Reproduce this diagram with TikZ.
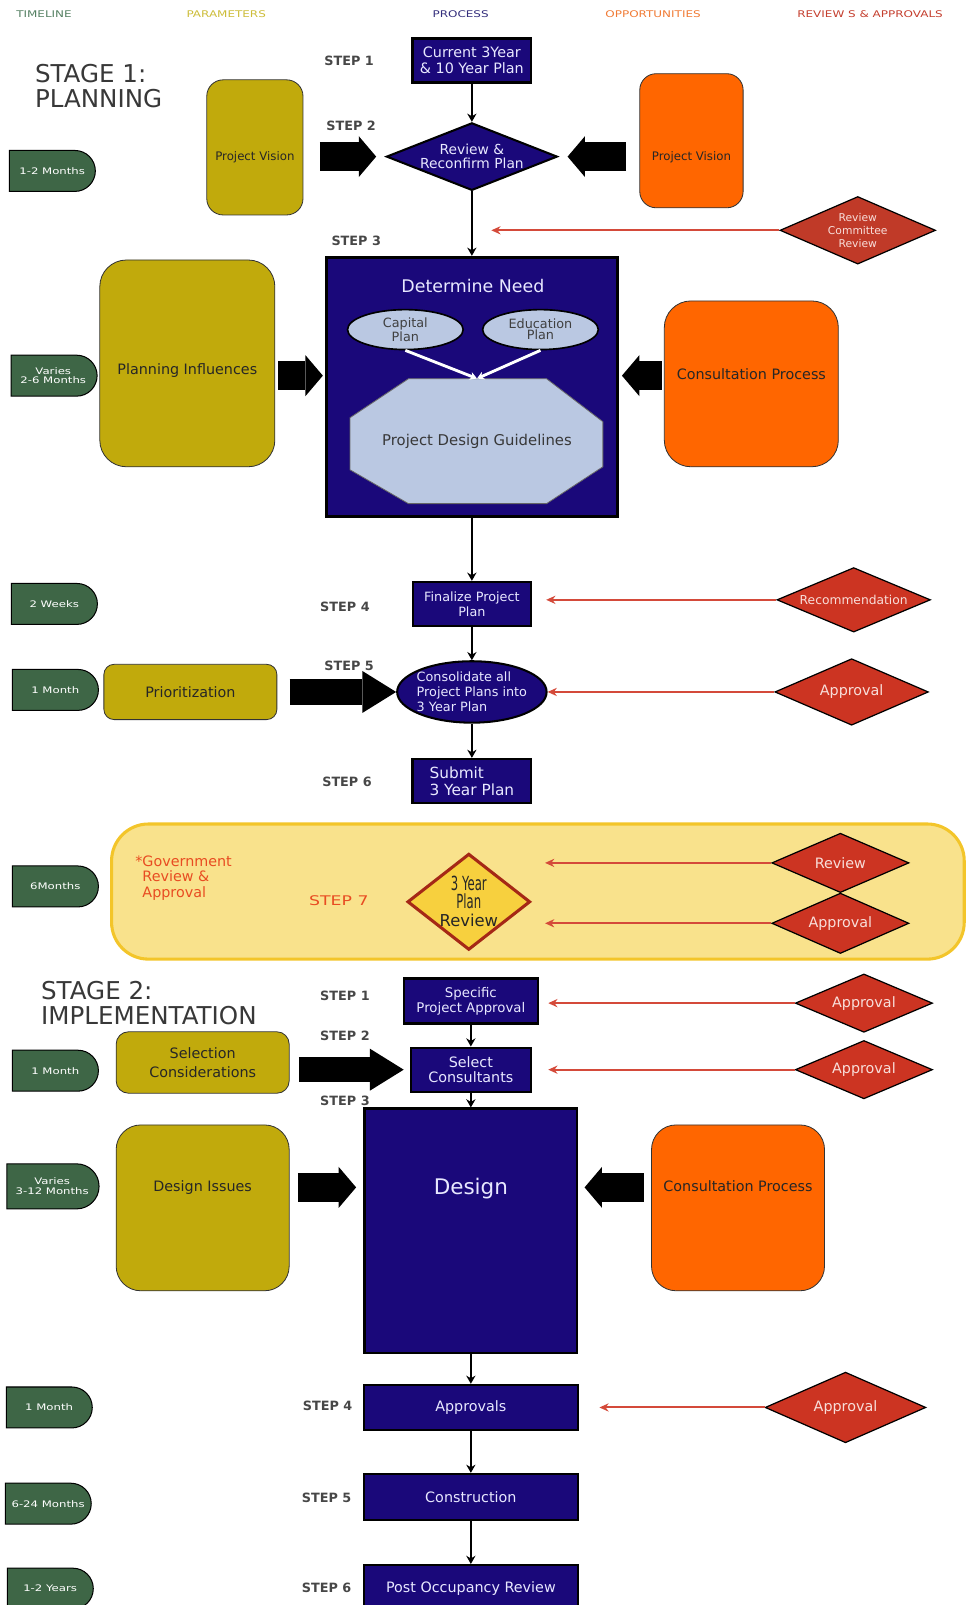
\documentclass[tikz,border=0pt]{standalone}
\usepackage{fontspec}
\setmainfont{DejaVu Sans}
\newfontfamily\widefont[FakeStretch=1.3]{DejaVu Sans}
\newfontfamily\narrowfont[FakeStretch=0.6]{DejaVu Sans}
\usetikzlibrary{arrows.meta,shapes.geometric,shapes.misc,calc}
\definecolor{procnavy}{RGB}{26,8,122}
\definecolor{proctext}{RGB}{232,232,255}
\definecolor{pillgreen}{RGB}{62,102,70}
\definecolor{parolive}{RGB}{193,170,12}
\definecolor{opporange}{RGB}{255,102,0}
\definecolor{revred}{RGB}{204,52,34}
\definecolor{revdark}{RGB}{192,58,40}
\definecolor{revtext}{RGB}{248,222,218}
\definecolor{arrowred}{RGB}{212,74,58}
\definecolor{paleblue}{RGB}{186,200,226}
\definecolor{bandfill}{RGB}{249,226,140}
\definecolor{bandedge}{RGB}{243,197,42}
\definecolor{tyrfill}{RGB}{247,208,62}
\definecolor{tyredge}{RGB}{165,40,22}
\definecolor{govred}{RGB}{232,76,34}
\definecolor{hdtime}{RGB}{84,128,98}
\definecolor{hdpar}{RGB}{204,188,56}
\definecolor{hdproc}{RGB}{52,46,124}
\definecolor{hdopp}{RGB}{240,122,52}
\definecolor{hdrev}{RGB}{196,62,46}

\begin{document}
\begin{tikzpicture}[x=1pt, y=-1pt,
  hdr/.style={font=\widefont\fontsize{9}{11}\selectfont},
  stagelbl/.style={anchor=west, align=left, inner sep=0pt, text=black!78, font=\fontsize{24}{24}\selectfont},
  steplbl/.style={text=black!72, font=\bfseries\fontsize{12.5}{14}\selectfont},
  pill/.style={rounded rectangle, rounded rectangle west arc=none, draw=black, line width=1pt, fill=pillgreen, text=white, minimum width=84pt, minimum height=40pt, inner sep=0pt, align=center, font=\widefont\fontsize{8.8}{9.5}\selectfont},
  partxt/.style={text=black!85, font=\fontsize{14}{19}\selectfont},
  smalltxt/.style={text=black!85, font=\fontsize{11.5}{13}\selectfont},
  param/.style={partxt, draw=black!80, line width=0.8pt, fill=parolive, rounded corners=16pt, align=center},
  oppo/.style={param, fill=opporange},
  proc/.style={draw=black, line width=2.2pt, fill=procnavy, text=proctext, align=center, inner sep=1pt, font=\fontsize{14}{15}\selectfont},
  pale/.style={draw=black, line width=1.6pt, fill=paleblue, text=black!75},
  revd/.style={diamond, draw=black, line width=1.2pt, fill=revred, text=revtext, inner sep=0pt, font=\fontsize{14}{15}\selectfont},
  band/.style={draw=bandedge, line width=3pt, fill=bandfill, rounded corners=36pt},
  flow/.style={-{Stealth[length=8pt,width=9pt]}, line width=2pt},
  rv/.style={-{Stealth[length=9pt,width=8pt]}, draw=arrowred, line width=2pt},
  blk/.style={-{Triangle[length=17pt,width=40pt,line width=0pt]}, line width=28pt},
  blklong/.style={-{Triangle[length=33pt,width=41pt,line width=0pt]}, line width=25pt}]
\useasboundingbox (0,0) rectangle (946,1568);
\clip (0,0) rectangle (946,1568);

\node[band, minimum width=833pt, minimum height=132pt] (gov) at (525.5,871) {};

\node[hdr, text=hdtime] (htime) at (43,14) {TIMELINE};
\node[hdr, text=hdpar] (hpar) at (221,14) {PARAMETERS};
\node[hdr, text=hdproc] (hproc) at (450,14) {PROCESS};
\node[hdr, text=hdopp] (hopp) at (638,14) {OPPORTUNITIES};
\node[hdr, text=hdrev] (hrev) at (850,14) {REVIEW S \& APPROVALS};

\node[stagelbl] (stage1) at (34,84) {STAGE 1:\\PLANNING};
\node[stagelbl] (stage2) at (40,980) {STAGE 2:\\IMPLEMENTATION};

\node[pill] (t1) at (51,167) {1-2 Months};
\node[pill] (t2) at (52,367) {Varies\\2-6 Months};
\node[pill] (t3) at (53,590) {2 Weeks};
\node[pill] (t4) at (54,674) {1 Month};
\node[pill] (t5) at (54,866) {6Months};
\node[pill] (t6) at (54,1046) {1 Month};
\node[pill, minimum width=90pt, minimum height=44pt] (t7) at (51,1159) {Varies\\3-12 Months};
\node[pill] (t8) at (48,1375) {1 Month};
\node[pill] (t9) at (47,1469) {6-24 Months};
\node[pill] (t10) at (49,1552) {1-2 Years};

\node[param, minimum width=94pt, minimum height=132pt, label={[smalltxt, yshift=-10pt]center:Project Vision}] (pvl) at (249,144) {};
\node[param, rounded corners=26pt, minimum width=171pt, minimum height=202pt, label={[partxt, yshift=-7pt]center:Planning Influences}] (pin) at (183,355) {};
\node[param, rounded corners=10pt, minimum width=169pt, minimum height=54pt] (pri) at (186,676) {Prioritization};
\node[param, rounded corners=12pt, minimum width=169pt, minimum height=60pt] (sel) at (198,1038) {Selection\\Considerations};
\node[param, rounded corners=24pt, minimum width=169pt, minimum height=162pt, label={[partxt, yshift=20pt]center:Design Issues}] (dis) at (198,1180) {};

\node[oppo, minimum width=101pt, minimum height=131pt, label={[smalltxt, yshift=-16pt]center:Project Vision}] (pvr) at (675.5,137.5) {};
\node[oppo, rounded corners=26pt, minimum width=170pt, minimum height=162pt, label={[partxt, yshift=9pt]center:Consultation Process}] (con1) at (734,375) {};
\node[oppo, rounded corners=24pt, minimum width=169pt, minimum height=162pt, label={[partxt, yshift=21pt]center:Consultation Process}] (con2) at (721,1180) {};

\node[proc, minimum width=116pt, minimum height=43pt] (s1) at (461,59) {Current 3Year\\\& 10 Year Plan};
\node[proc, diamond, aspect=2.53, minimum width=167pt, minimum height=66pt, inner sep=-4pt, line width=2pt, font=\fontsize{13.5}{14}\selectfont] (s2) at (461,153) {Review \&\\Reconfirm Plan};
\node[proc, line width=3.2pt, minimum width=284pt, minimum height=253pt] (s3) at (461,378) {};
\node[text=proctext, font=\fontsize{17}{20}\selectfont] (need) at (462,279) {Determine Need};
\filldraw[pale, line width=0.8pt, draw=black!60] (399,370) -- (534,370) -- (589,412) -- (589,456) -- (534,492) -- (399,492) -- (342,459) -- (342,408) -- cycle;
\node[text=black!78, font=\fontsize{14.5}{17}\selectfont, minimum width=247pt, minimum height=122pt] (pdg) at (466,431) {Project Design Guidelines};
\node[pale, ellipse, minimum width=113pt, minimum height=39pt, inner sep=-4pt, align=center, font=\fontsize{12.5}{10.5}\selectfont] (cap) at (396,322) {Capital\\Plan};
\node[pale, ellipse, minimum width=113pt, minimum height=39pt, inner sep=-4pt, align=center, font=\fontsize{12.5}{10.5}\selectfont] (edu) at (528,322) {Education\\Plan};
\node[proc, minimum width=115pt, minimum height=43pt, font=\fontsize{12.5}{15}\selectfont] (s4) at (461,590) {Finalize Project\\Plan};
\node[proc, ellipse, line width=2pt, minimum width=146pt, minimum height=60pt, inner sep=-12pt, align=left, font=\fontsize{12.5}{14.5}\selectfont] (s5) at (461,676) {Consolidate all\\Project Plans into\\3 Year Plan};
\node[proc, minimum width=116pt, minimum height=43pt, align=left, font=\fontsize{15}{17}\selectfont] (s6) at (461,763) {Submit\\3 Year Plan};

\node[anchor=north west, align=left, inner sep=0pt, text=govred, font=\fontsize{14}{15}\selectfont] (govtxt) at (139,836) {\llap{*}Government\\Review \&\\Approval};
\node[text=govred, font=\widefont\fontsize{13}{15}\selectfont] (step7) at (331,880) {STEP 7};
\node[diamond, aspect=1.28, draw=tyredge, line width=3pt, fill=tyrfill, minimum width=120pt, minimum height=94pt, inner sep=-20pt, align=center, text=black!85, font=\fontsize{16}{17.5}\selectfont] (tyr) at (458,881) {{\narrowfont\fontsize{19}{17.5}\selectfont 3 Year}\\{\narrowfont\fontsize{19}{17.5}\selectfont Plan}\\Review};
\node[revd, aspect=2.31, minimum width=134pt, minimum height=58pt] (gr) at (821,843) {Review};
\node[revd, aspect=2.27, minimum width=134pt, minimum height=59pt] (ga) at (821,902) {Approval};

\node[revd, fill=revdark, aspect=2.3, minimum width=152pt, minimum height=66pt, align=center, font=\fontsize{10.5}{13}\selectfont] (rcr) at (838,225) {Review\\Committee\\Review};
\node[revd, aspect=2.38, minimum width=150pt, minimum height=63pt, font=\fontsize{12}{14}\selectfont] (rec) at (834,586) {Recommendation};
\node[revd, aspect=2.3, minimum width=150pt, minimum height=65pt] (ap5) at (832,676) {Approval};

\node[proc, minimum width=131pt, minimum height=44pt, font=\fontsize{13}{15}\selectfont] (i1) at (460,978) {Specific\\Project Approval};
\node[proc, minimum width=117pt, minimum height=43pt] (i2) at (460,1045) {Select\\Consultants};
\node[proc, minimum width=208pt, minimum height=239pt, label={[text=proctext, font=\fontsize{21}{24}\selectfont, yshift=41pt]center:Design}] (i3) at (460,1202.5) {};
\node[proc, minimum width=209pt, minimum height=44pt] (i4) at (460,1375) {Approvals};
\node[proc, minimum width=209pt, minimum height=45pt] (i5) at (460,1462.5) {Construction};
\node[proc, minimum width=209pt, minimum height=46pt] (i6) at (460,1552) {Post Occupancy Review};

\node[revd, aspect=2.35, minimum width=134pt, minimum height=57pt] (ai1) at (844,980) {Approval};
\node[revd, aspect=2.35, minimum width=134pt, minimum height=57pt] (ai2) at (844,1045) {Approval};
\node[revd, aspect=2.28, minimum width=157pt, minimum height=69pt] (ai4) at (826,1375) {Approval};

\node[steplbl] (p1) at (341,59) {STEP 1};
\node[steplbl] (p2) at (343,123) {STEP 2};
\node[steplbl] (p3) at (348,235) {STEP 3};
\node[steplbl] (p4) at (337,593) {STEP 4};
\node[steplbl] (p5) at (341,650) {STEP 5};
\node[steplbl] (p6) at (339,764) {STEP 6};
\node[steplbl] (q1) at (337,973) {STEP 1};
\node[steplbl] (q2) at (337,1012) {STEP 2};
\node[steplbl] (q3) at (337,1075) {STEP 3};
\node[steplbl] (q4) at (320,1373) {STEP 4};
\node[steplbl] (q5) at (319,1463) {STEP 5};
\node[steplbl] (q6) at (319,1551) {STEP 6};

\draw[flow] (s1) -- (s2);
\draw[flow] (s2) -- (s3);
\draw[flow] (s3) -- (s4);
\draw[flow] (s4) -- (s5);
\draw[flow] (s5) -- (s6);
\draw[flow] (i1) -- (i2);
\draw[flow] (i2) -- (i3);
\draw[flow] (i3) -- (i4);
\draw[flow] (i4) -- (i5);
\draw[flow] (i5) -- (i6);
\draw[white, line width=2.8pt, -{Stealth[length=7pt,width=8pt]}] (cap.south) -- (pdg.north);
\draw[white, line width=2.8pt, -{Stealth[length=7pt,width=8pt]}] (edu.south) -- (pdg.north);

\draw[blk, shorten <=16pt, shorten >=9pt] (pvl.east |- s2) -- (s2);
\draw[blk, shorten <=13pt, shorten >=9pt] (pvr.west |- s2) -- (s2);
\draw[blk, shorten <=3pt, shorten >=2pt] ($(pin.east)+(0,12)$) -- ($(s3.west |- pin.east)+(0,12)$);
\draw[blk, shorten <=2pt, shorten >=3pt] ($(con1.west)+(0,-8)$) -- ($(s3.east |- con1.west)+(0,-8)$);
\draw[blklong, shorten <=12pt] (pri) -- (s5);
\draw[blklong, shorten <=9pt, shorten >=6pt] (sel.east |- i2) -- (i2);
\draw[blk, shorten <=8pt, shorten >=7pt] ($(dis.east)+(0,-20)$) -- ($(i3.west |- dis.east)+(0,-20)$);
\draw[blk, shorten <=7pt, shorten >=6pt] ($(con2.west)+(0,-20)$) -- ($(i3.east |- con2.west)+(0,-20)$);

\draw[rv, shorten >=19pt] (rcr) -- (rcr -| s2);
\draw[rv, shorten >=14pt] (rec) -- (rec -| s4.east);
\draw[rv] (ap5) -- (s5);
\draw[rv, shorten >=13pt] (gr) -- (gr -| tyr.east);
\draw[rv, shorten >=13pt] (ga) -- (ga -| tyr.east);
\draw[rv, shorten >=9pt] (ai1) -- (ai1 -| i1.east);
\draw[rv, shorten >=16pt] (ai2) -- (ai2 -| i2.east);
\draw[rv, shorten >=20pt] (ai4) -- (ai4 -| i4.east);
\end{tikzpicture}
\end{document}
